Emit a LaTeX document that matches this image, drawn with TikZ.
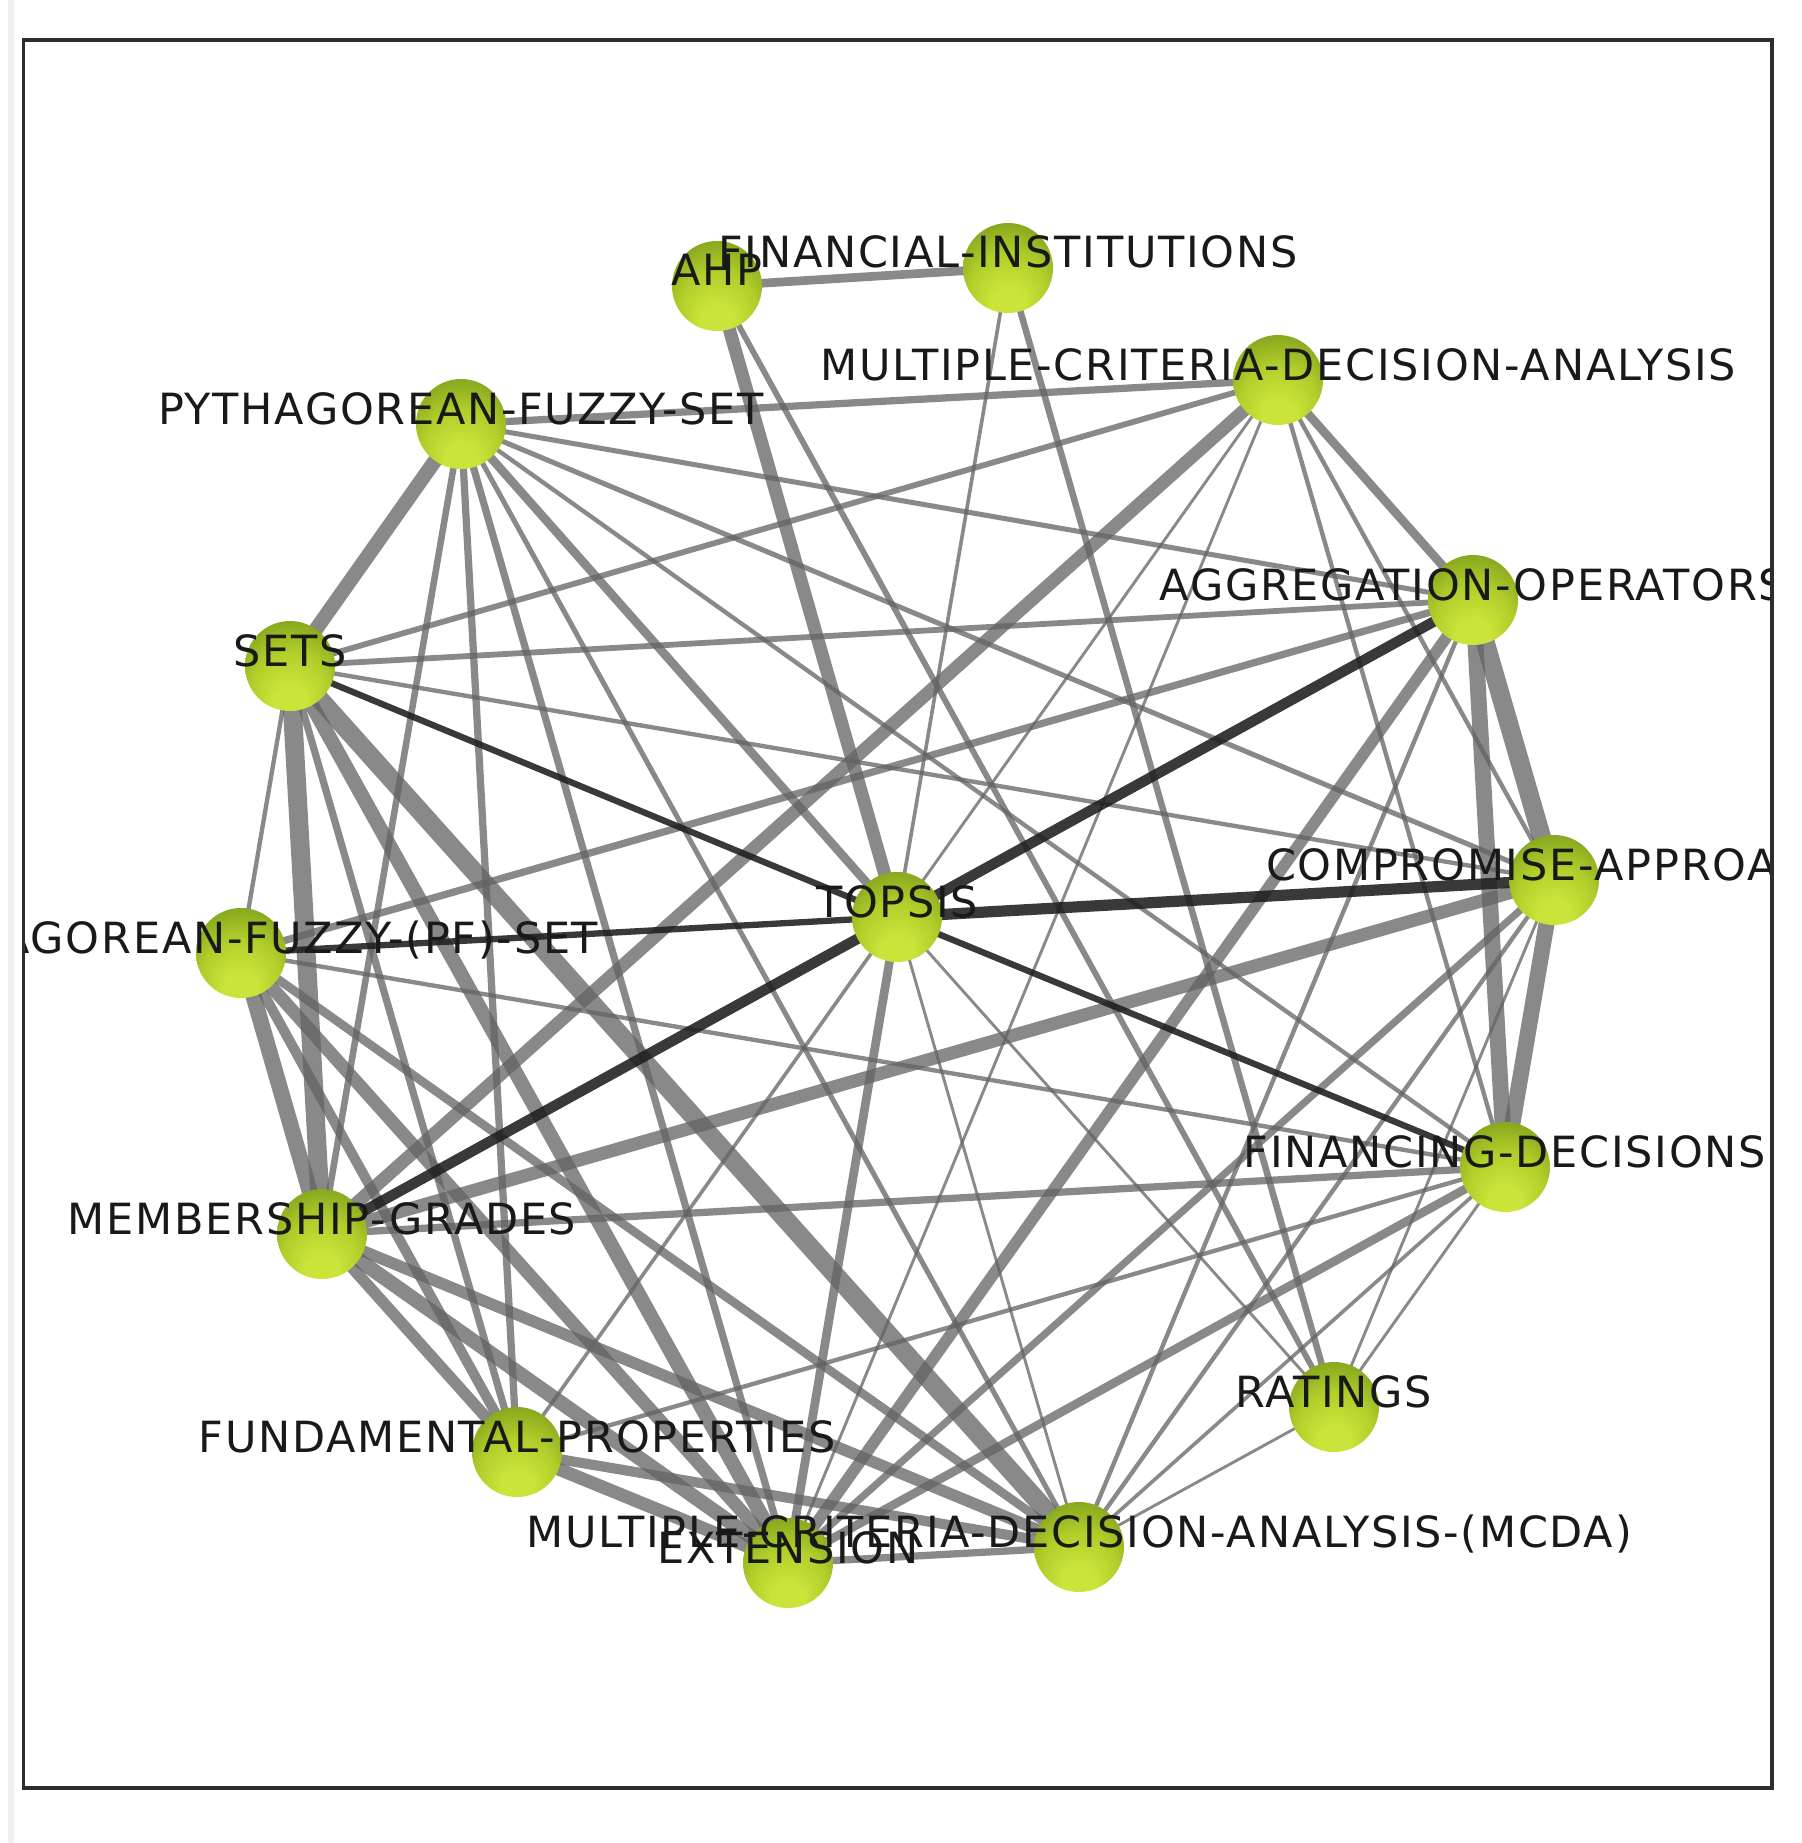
\documentclass[tikz,border=0pt]{standalone}
\usepackage{fontspec}
\newfontfamily\lblfont{DejaVu Sans}[LetterSpace=4.0]
\pgfdeclarelayer{paper}
\pgfdeclarelayer{edges}
\pgfsetlayers{paper,edges,main}
\definecolor{sphA}{RGB}{204,228,58}
\definecolor{sphB}{RGB}{176,205,42}
\definecolor{sphC}{RGB}{140,172,32}
\definecolor{sphD}{RGB}{106,136,24}
\definecolor{sphE}{RGB}{76,100,16}
\definecolor{edgegray}{RGB}{100,100,100}
\definecolor{edgedark}{RGB}{30,30,30}
\definecolor{framec}{RGB}{45,45,45}
\definecolor{txtc}{RGB}{25,25,25}
\pgfdeclareradialshading{sphere}{\pgfpoint{0bp}{-24bp}}{color(0bp)=(sphA); color(9bp)=(sphA); color(22bp)=(sphB); color(32bp)=(sphC); color(41bp)=(sphD); color(47bp)=(sphE); color(50bp)=(sphE)}
\tikzset{
  ball/.style={circle, minimum size=90pt, inner sep=0pt, shading=sphere},
  lab/.style={anchor=base, inner sep=0pt, text=txtc, font=\lblfont\fontsize{43}{50}\selectfont},
  ge/.style={draw=edgegray, draw opacity=0.76, line width=#1},
  de/.style={draw=edgedark, draw opacity=0.88, line width=#1},
}
\begin{document}
\begin{tikzpicture}[x=1pt, y=-1pt]
\useasboundingbox (0,0) rectangle (1801,1843);
\begin{pgfonlayer}{paper}
\fill[white] (0,0) rectangle (1801,1843);
\draw[gray!12, line width=6pt] (11,0) -- (11,1843);
\end{pgfonlayer}
% nodes
\node[ball] (A)  at (717,286)   {};
\node[ball] (FI) at (1008,268)  {};
\node[ball] (MT) at (1278,380)  {};
\node[ball] (P)  at (461,424)   {};
\node[ball] (AG) at (1473,600)  {};
\node[ball] (S)  at (290,666)   {};
\node[ball] (C)  at (1554,880)  {};
\node[ball] (T)  at (897,917)   {};
\node[ball] (PF) at (241,953)   {};
\node[ball] (FD) at (1505,1167) {};
\node[ball] (M)  at (322,1234)  {};
\node[ball] (R)  at (1334,1407) {};
\node[ball] (FP) at (517,1452)  {};
\node[ball] (E)  at (788,1563)  {};
\node[ball] (MC) at (1079,1547) {};
% edges
\begin{pgfonlayer}{edges}
\foreach \a/\b/\w [evaluate=\w as \ww using 1.45*\w] in {A/FI/6, A/T/9, A/R/4, FI/T/2.5, FI/R/4.5,
  P/MT/5, P/S/10, P/AG/3.5, P/C/3.5, P/FD/3, P/T/6, P/FP/5, P/E/5, P/M/4.5, P/MC/3.5,
  S/MT/4, S/AG/4, S/C/3, S/PF/3, S/M/13, S/FP/5, S/E/10, S/MC/13,
  MT/M/9, MT/E/2, MT/FD/3, MT/C/3, MT/AG/6, MT/T/2,
  AG/C/13, AG/FD/11, AG/PF/5, AG/E/8, AG/MC/3,
  C/FD/11, C/M/9, C/E/5, C/MC/3, C/R/2,
  PF/FD/3, PF/M/11, PF/FP/7, PF/E/9, PF/MC/6,
  M/FD/5, M/FP/8, M/E/10, M/MC/8,
  FD/E/6, FD/MC/2.5, FD/R/2, FD/FP/3,
  T/E/6, T/FP/2.5, T/MC/2, T/R/2,
  FP/E/9, FP/MC/7, E/MC/5, R/MC/2}
  \draw[ge=\ww pt] (\a.center) -- (\b.center);
\foreach \a/\b/\w [evaluate=\w as \ww using 1.4*\w] in {T/AG/7.5, M/T/7.5, T/C/8, S/T/4.5, T/FD/4.5, PF/T/4.5}
  \draw[de=\ww pt] (\a.center) -- (\b.center);
\end{pgfonlayer}
% labels
\begin{scope}
\clip (25,42) rectangle (1770,1786);
\node[lab] (lA)  at (A.center)  {AHP};
\node[lab] (lFI) at (FI.center) {FINANCIAL-INSTITUTIONS};
\node[lab] (lMT) at (MT.center) {MULTIPLE-CRITERIA-DECISION-ANALYSIS};
\node[lab] (lP)  at (P.center)  {PYTHAGOREAN-FUZZY-SET};
\node[lab] (lAG) at (AG.center) {AGGREGATION-OPERATORS};
\node[lab] (lS)  at (S.center)  {SETS};
\node[lab] (lC)  at (C.center)  {COMPROMISE-APPROACH};
\node[lab] (lT)  at (T.center)  {TOPSIS};
\node[lab] (lPF) at (PF.center) {PYTHAGOREAN-FUZZY-(PF)-SET};
\node[lab] (lFD) at (FD.center) {FINANCING-DECISIONS};
\node[lab] (lM)  at (M.center)  {MEMBERSHIP-GRADES};
\node[lab] (lR)  at (R.center)  {RATINGS};
\node[lab] (lFP) at (FP.center) {FUNDAMENTAL-PROPERTIES};
\node[lab] (lE)  at (E.center)  {EXTENSION};
\node[lab] (lMC) at (MC.center) {MULTIPLE-CRITERIA-DECISION-ANALYSIS-(MCDA)};
\end{scope}
\draw[framec, line width=3.5pt] (23.5,40) rectangle (1772,1788);
\end{tikzpicture}
\end{document}
